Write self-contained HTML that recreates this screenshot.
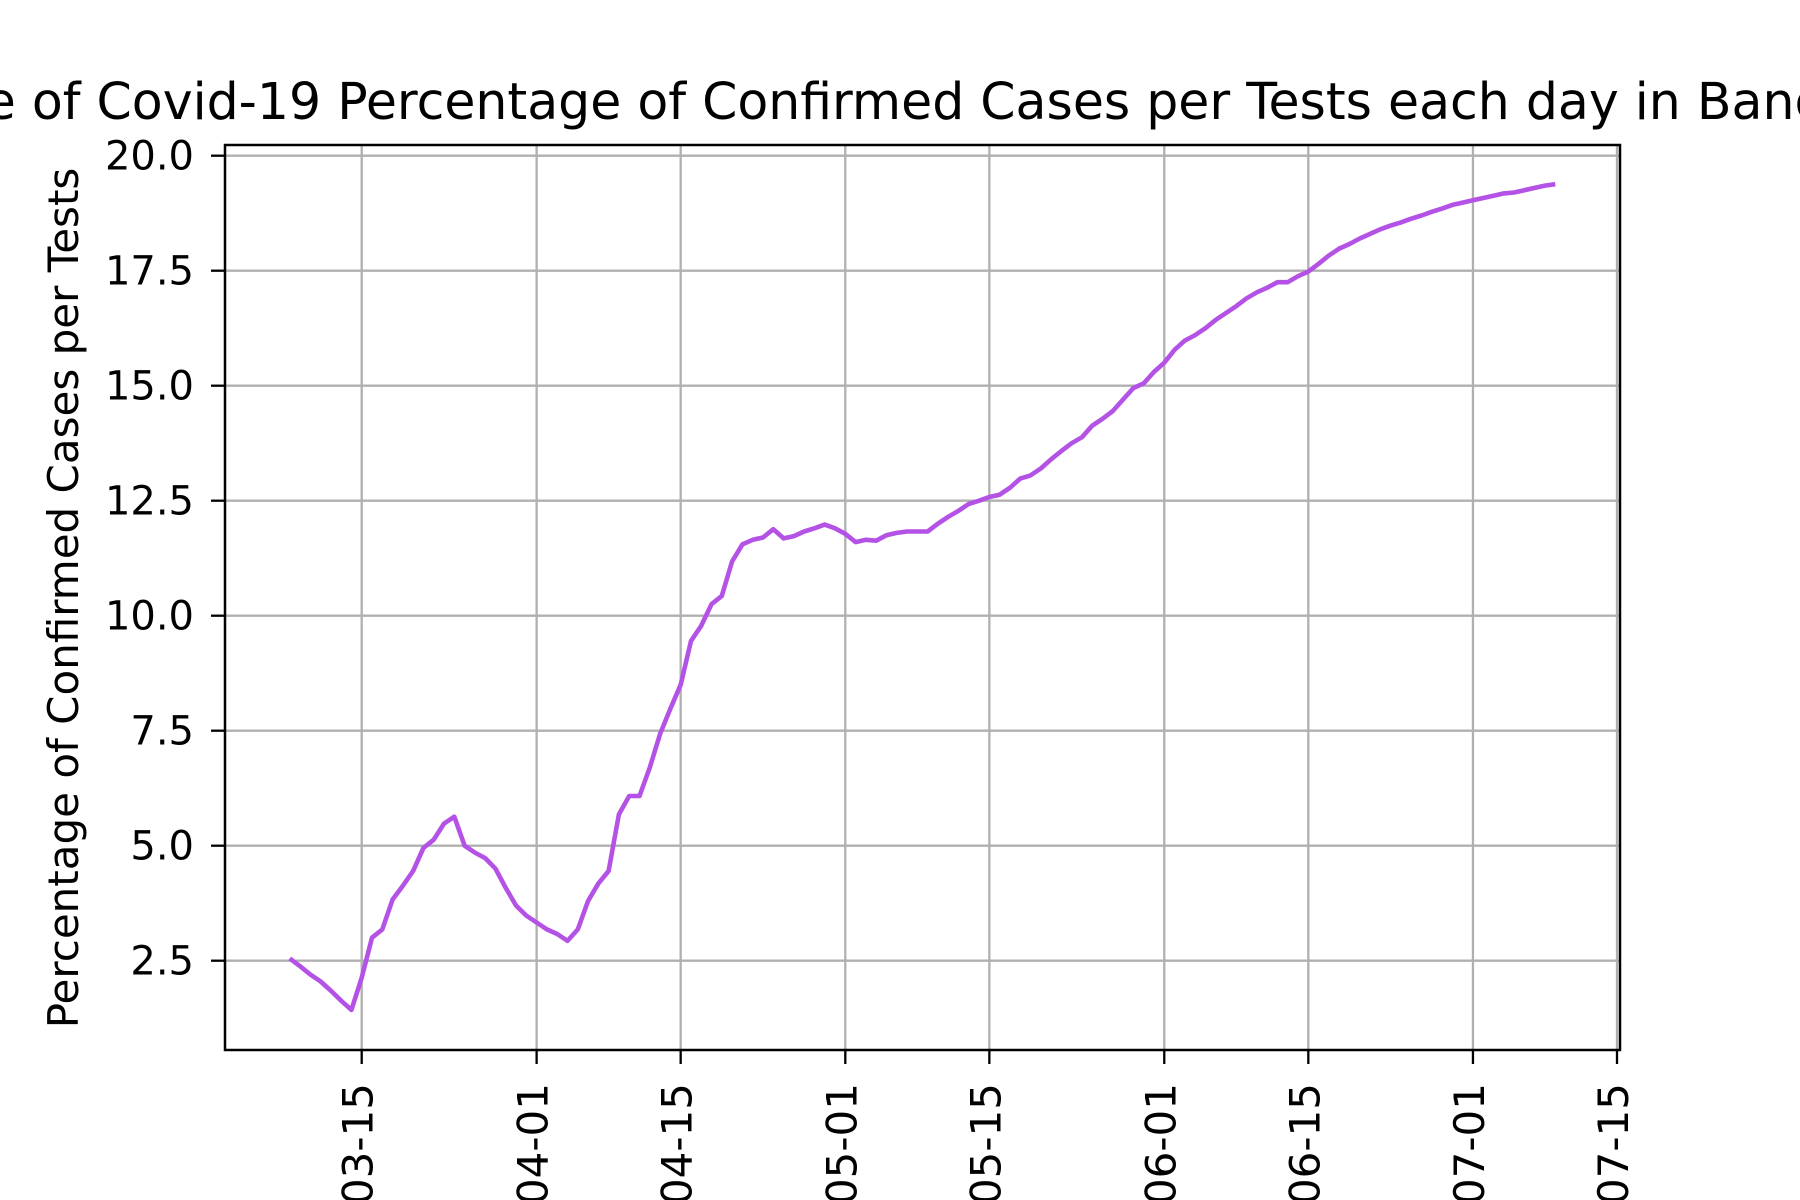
<!DOCTYPE html>
<html><head><meta charset="utf-8"><style>
html,body{margin:0;padding:0;background:#fff;width:1800px;height:1200px;overflow:hidden;}
svg{display:block;font-family:"DejaVu Sans","Liberation Sans",sans-serif;}
</style></head><body>
<svg id="chart" width="1800" height="1200" xmlns="http://www.w3.org/2000/svg">
<rect width="1800" height="1200" fill="#fff"/>
<g id="grid"></g>
<g id="series"></g>
<g id="axes"></g>
<text x="897" y="119" font-size="50.5" text-anchor="middle">Timeline of Covid-19 Percentage of Confirmed Cases per Tests each day in Bangladesh</text>
<text transform="translate(78,598) rotate(-90)" font-size="42" text-anchor="middle">Percentage of Confirmed Cases per Tests</text>
</svg>
<script>
const startDay = -7; // 2020-03-08 relative to 2020-03-15
const values = [2.55,2.38,2.2,2.05,1.85,1.63,1.43,2.13,3.0,3.18,3.83,4.13,4.45,4.95,5.13,5.48,5.63,5.0,4.85,4.73,4.5,4.08,3.7,3.48,3.33,3.18,3.08,2.93,3.18,3.8,4.18,4.45,5.68,6.08,6.08,6.7,7.43,7.98,8.5,9.45,9.78,10.25,10.43,11.18,11.55,11.65,11.7,11.88,11.68,11.73,11.83,11.9,11.98,11.9,11.78,11.6,11.65,11.63,11.75,11.8,11.83,11.83,11.83,12.0,12.15,12.28,12.43,12.5,12.58,12.63,12.78,12.98,13.05,13.2,13.4,13.58,13.75,13.88,14.13,14.28,14.45,14.7,14.95,15.05,15.3,15.5,15.78,15.98,16.1,16.25,16.43,16.58,16.73,16.9,17.03,17.13,17.25,17.25,17.38,17.48,17.65,17.83,17.98,18.08,18.2,18.3,18.4,18.48,18.55,18.63,18.7,18.78,18.85,18.93,18.98,19.03,19.08,19.13,19.18,19.2,19.25,19.3,19.35,19.38];
const xTickDays = [0,17,31,47,61,78,92,108,122];
const xTickLabels = ["2020-03-15","2020-04-01","2020-04-15","2020-05-01","2020-05-15","2020-06-01","2020-06-15","2020-07-01","2020-07-15"];
const yTicks = [2.5,5.0,7.5,10.0,12.5,15.0,17.5,20.0];

const L=225,R=1620,T=145,B=1050;
function xs(d){return 361.7+d*(1617-361.7)/122;}
function ys(v){return 155.7+(20-v)*46;}
const NS="http://www.w3.org/2000/svg";
function mk(tag,attrs,parent){const e=document.createElementNS(NS,tag);for(const k in attrs)e.setAttribute(k,attrs[k]);parent.appendChild(e);return e;}
const grid=document.getElementById('grid'),axes=document.getElementById('axes'),series=document.getElementById('series');
xTickDays.forEach((d,i)=>{
  const x=xs(d);
  const g=mk('line',{x1:x,x2:x,y1:T,y2:B,stroke:'#b0b0b0','stroke-width':2.3},grid);
  
  
  const t=mk('line',{x1:x,x2:x,y1:B,y2:B+14,stroke:'#000','stroke-width':2.3},axes);
  
  
  const lb=mk('text',{transform:`translate(${x+11},${B+33}) rotate(-90)`,'font-size':42,'text-anchor':'end'},axes);
  lb.textContent=xTickLabels[i];
  
  
});
yTicks.forEach(v=>{
  const y=ys(v);
  const g=mk('line',{x1:L,x2:R,y1:y,y2:y,stroke:'#b0b0b0','stroke-width':2.3},grid);
  
  
  const t=mk('line',{x1:L-14,x2:L,y1:y,y2:y,stroke:'#000','stroke-width':2.3},axes);
  
  
  const lb=mk('text',{x:194,y:y+14,'font-size':40,'text-anchor':'end'},axes);
  lb.textContent=v.toFixed(1);
  
  
});
const frame=mk('rect',{x:L,y:T,width:R-L,height:B-T,fill:'none',stroke:'#000','stroke-width':2.5},axes);


const pts=values.map((v,i)=>xs(startDay+i).toFixed(1)+','+ys(v).toFixed(1)).join(' ');
const line=mk('polyline',{points:pts,fill:'none',stroke:'#b452e6','stroke-width':4.6,'stroke-linejoin':'round'},series);


</script>
</body></html>
